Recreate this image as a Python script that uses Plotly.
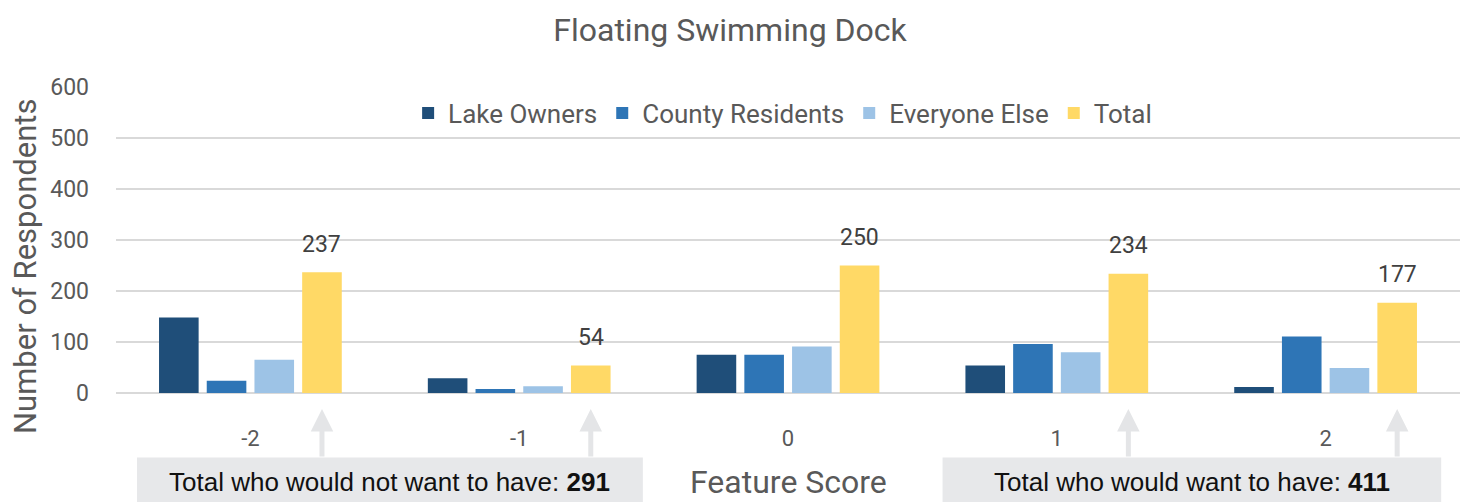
import plotly.graph_objects as go

categories = [-2, -1, 0, 1, 2]
lake_owners = [148, 29, 75, 54, 12]
county_residents = [24, 8, 75, 96, 111]
everyone_else = [65, 13, 91, 80, 49]
total = [237, 54, 250, 234, 177]
y_ticks = [0, 100, 200, 300, 400, 500, 600]

series = [
    ("Lake Owners", lake_owners, "#1f4e79"),
    ("County Residents", county_residents, "#2e75b6"),
    ("Everyone Else", everyone_else, "#9dc3e6"),
    ("Total", total, "#ffd966"),
]

BARGAP = 0.29
GROUPGAP = 0.17
n_series = len(series)
slot = (1 - BARGAP) / n_series
total_offset = -(1 - BARGAP) / 2 + slot * (n_series - 0.5)

FONT = "Roboto"
GRAY = "#595959"

fig = go.Figure()
for name, vals, color in series:
    fig.add_trace(go.Bar(
        x=categories, y=vals, name=name,
        marker=dict(color=color, line=dict(width=0)),
        hoverinfo="x+y+name",
    ))

# data labels above Total bars
for c, t in zip(categories, total):
    fig.add_annotation(
        x=c + total_offset, y=t, xref="x", yref="y",
        text=str(t), showarrow=False, yshift=28,
        xanchor="center", yanchor="middle",
        font=dict(family=FONT, size=23, color="#404040"),
    )

# arrows from boxes up to Total bars
for c in categories:
    if c == 0:
        continue
    fig.add_annotation(
        x=c + total_offset, y=-0.052, xref="x", yref="paper",
        ax=0, ay=49, text="", showarrow=True,
        arrowhead=2, arrowwidth=5, arrowsize=0.9, arrowcolor="#e4e5e7",
    )

neg_sum = sum(t for c, t in zip(categories, total) if c < 0)
pos_sum = sum(t for c, t in zip(categories, total) if c > 0)

boxes = [
    (0.0156, 0.392, f"Total who would not want to have: <b>{neg_sum}</b>"),
    (0.615, 0.986, f"Total who would want to have: <b>{pos_sum}</b>"),
]
for x0, x1, txt in boxes:
    fig.add_shape(type="rect", xref="paper", yref="paper",
                  x0=x0, x1=x1, y0=-0.211, y1=-0.40,
                  fillcolor="#e7e8ea", line=dict(width=0), layer="below")
    fig.add_annotation(x=(x0 + x1) / 2, y=-0.292, xref="paper", yref="paper",
                       xanchor="center", yanchor="middle",
                       text=txt, showarrow=False,
                       font=dict(family="Liberation Sans, Arial", size=26, color="#111111"))

# axis titles as annotations for exact placement
fig.add_annotation(x=0.5007, y=-0.29, xref="paper", yref="paper",
                   xanchor="center", yanchor="middle",
                   text="Feature Score", showarrow=False,
                   font=dict(family=FONT, size=32, color=GRAY))
fig.add_annotation(x=-0.0668, y=0.4156, xref="paper", yref="paper",
                   xanchor="center", yanchor="middle",
                   text="Number of Respondents", showarrow=False, textangle=-90,
                   font=dict(family=FONT, size=31, color=GRAY))

fig.update_layout(
    width=1469, height=502,
    margin=dict(l=108, r=17, t=79, b=117),
    paper_bgcolor="white", plot_bgcolor="white",
    barmode="group", bargap=BARGAP, bargroupgap=GROUPGAP,
    title=dict(text="Floating Swimming Dock", x=0.4915, xanchor="center",
               y=0.956, yanchor="middle",
               font=dict(family=FONT, size=32, color=GRAY)),
    legend=dict(orientation="h", x=0.496, xanchor="center", y=0.915, yanchor="middle",
                font=dict(family=FONT, size=26, color=GRAY),
                bgcolor="rgba(0,0,0,0)", itemwidth=30, traceorder="normal"),
    showlegend=True,
    font=dict(family=FONT, color=GRAY),
)
fig.update_xaxes(
    tickvals=categories, ticktext=[str(c) for c in categories],
    range=[categories[0] - 0.5, categories[-1] + 0.5],
    showgrid=False, zeroline=False, showline=False,
    tickfont=dict(family=FONT, size=22, color=GRAY),
    ticklabelstandoff=30,
)
fig.update_yaxes(
    range=[0, 600], tickvals=y_ticks,
    showgrid=True, gridcolor="#d9d9d9", gridwidth=2,
    zeroline=True, zerolinecolor="#d9d9d9", zerolinewidth=2,
    showline=False,
    tickfont=dict(family=FONT, size=23, color=GRAY),
    ticklabelstandoff=26,
)

fig.write_html("out.html")
